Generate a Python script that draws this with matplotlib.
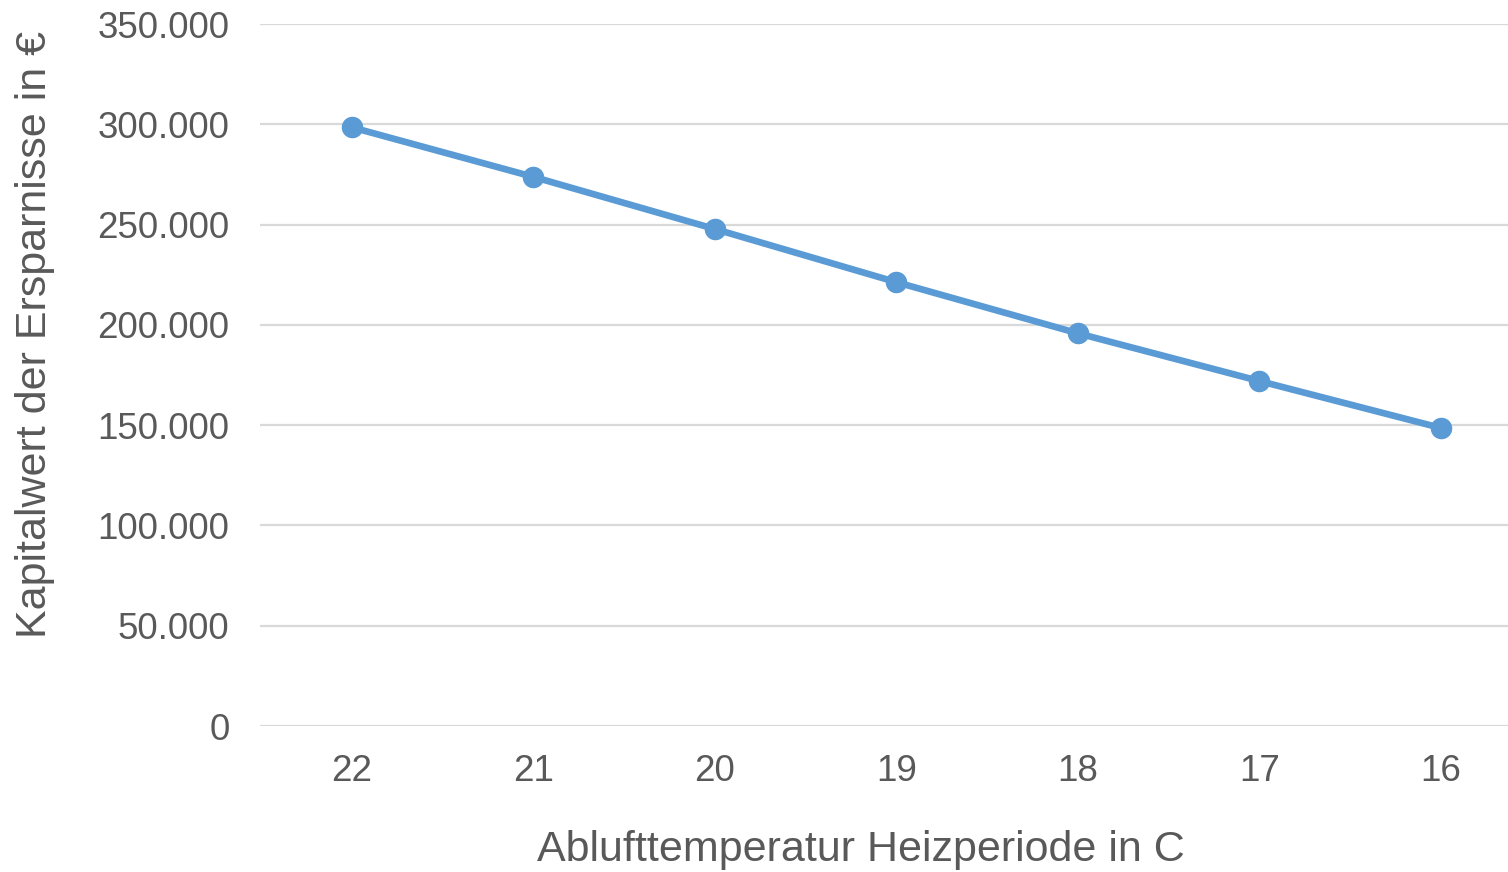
import matplotlib
matplotlib.use("Agg")
import matplotlib.pyplot as plt
from matplotlib.ticker import FuncFormatter

categories = ["22", "21", "20", "19", "18", "17", "16"]
values = [298500, 273800, 247800, 221300, 195800, 172000, 148600]
yticks = [0, 50000, 100000, 150000, 200000, 250000, 300000, 350000]

plt.rcParams['font.family'] = ['Liberation Sans', 'DejaVu Sans']

fig = plt.figure(figsize=(15.08, 8.72), dpi=100)
ax = fig.add_axes([260/1508, 1-726/872, 1-260/1508, (726-24)/872])

x = list(range(len(categories)))
ax.plot(x, values, color="#5B9BD5", linewidth=4.8, marker="o", markersize=14.5,
        zorder=3, clip_on=False)

ax.set_ylim(0, 350000)
ax.set_xlim(-0.505, 6.37)
ax.set_yticks(yticks)
ax.yaxis.set_major_formatter(FuncFormatter(lambda v, p: f"{int(v):,}".replace(",", ".")))
ax.set_xticks(x)
ax.set_xticklabels(categories)
ax.grid(axis="y", color="#D9D9D9", linewidth=1.6)
ax.set_axisbelow(True)
for s in ax.spines.values():
    s.set_visible(False)
ax.tick_params(axis="both", length=0, labelsize=26.5, labelcolor="#595959")
ax.tick_params(axis="y", pad=22)
ax.tick_params(axis="x", pad=20)

fig.text(861/1508, 1-850/872, "Ablufttemperatur Heizperiode in C", fontsize=31,
         color="#595959", ha="center", va="center")
fig.text(35/1508, 1-335/872, "Kapitalwert der Ersparnisse in €", fontsize=31,
         color="#595959", ha="center", va="center", rotation=90)

fig.savefig("out.png", dpi=100)
